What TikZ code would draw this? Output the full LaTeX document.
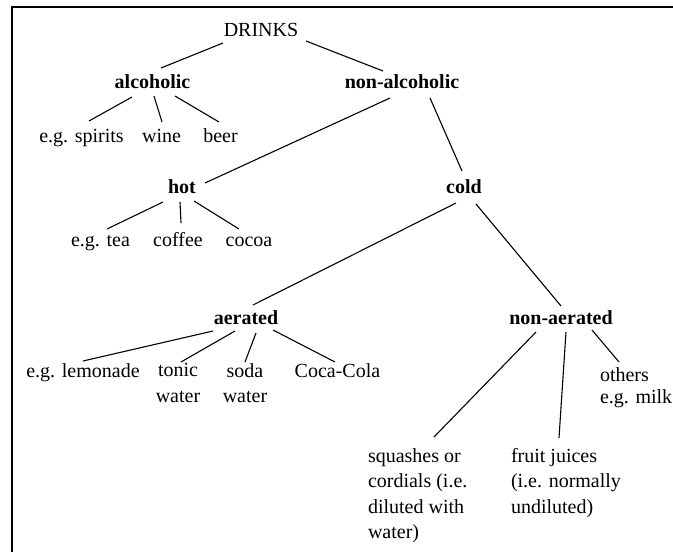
\documentclass[tikz,border=0pt]{standalone}
\usepackage{fontspec}
\setmainfont{Liberation Serif}
\begin{document}
\begin{tikzpicture}[x=1pt,y=-1pt,
  every node/.style={inner sep=0pt, outer sep=0pt, font=\fontsize{20}{25.5}\selectfont},
  cat/.style={font=\fontsize{20}{25.5}\selectfont\bfseries, anchor=base},
  item/.style={anchor=base},
  multil/.style={align=left, anchor=north west},
  multic/.style={align=center, anchor=north},
  link/.style={line width=1.1pt},
  frameline/.style={line width=1.6pt}]
\useasboundingbox (0,0) rectangle (673,552);
\draw[frameline] (673,7) -- (12,7) -- (12,552);

% nodes
\node[item] (drinks) at (261,36) {DRINKS};
\node[cat] (alc) at (152.5,88) {alcoholic};
\node[cat] (nonalc) at (402,88) {non-alcoholic};
\node[item] (spirits) at (81.5,142) {e.g. spirits};
\node[item] (wine) at (161.5,142) {wine};
\node[item] (beer) at (220.5,142) {beer};
\node[cat] (hot) at (182,193) {hot};
\node[cat] (cold) at (464,193) {cold};
\node[item] (tea) at (100.5,246) {e.g. tea};
\node[item] (coffee) at (178,246) {coffee};
\node[item] (cocoa) at (249,246) {cocoa};
\node[cat] (aer) at (246,324) {aerated};
\node[cat] (nonaer) at (561,324) {non-aerated};
\node[item] (lemon) at (83,377) {e.g. lemonade};
\node[multic] (tonic) at (178,363.3) {tonic\\water};
\node[multic] (soda) at (245,363.3) {soda\\water};
\node[item] (coca) at (337.5,377) {Coca-Cola};
\node[multil] (others) at (600,367.3) {others\\[-3.5pt]e.g. milk};
\node[multil] (squash) at (368,448.3) {squashes or\\cordials (i.e.\\diluted with\\water)};
\node[multil] (juice) at (511,448.3) {fruit juices\\(i.e. normally\\undiluted)};

% connectors
\draw[link] ([shift={(-38,7)}]drinks.base) -- ([shift={(8.5,-20)}]alc.base);
\draw[link] ([shift={(45,5)}]drinks.base) -- ([shift={(-19,-17)}]nonalc.base);
\draw[link] ([shift={(-20.5,9)}]alc.base) -- ([shift={(7.5,-21)}]spirits.base);
\draw[link] ([shift={(1.5,8)}]alc.base) -- ([shift={(0.5,-20)}]wine.base);
\draw[link] ([shift={(22.5,8)}]alc.base) -- ([shift={(-1.5,-20)}]beer.base);
\draw[link] ([shift={(-12,10)}]nonalc.base) -- ([shift={(23,-10)}]hot.base);
\draw[link] ([shift={(28,10)}]nonalc.base) -- ([shift={(-2,-22)}]cold.base);
\draw[link] ([shift={(-19,9)}]hot.base) -- ([shift={(6.5,-17)}]tea.base);
\draw[link] ([shift={(-2,9)}]hot.base) -- ([shift={(3,-23)}]coffee.base);
\draw[link] ([shift={(12,8)}]hot.base) -- ([shift={(-10,-17)}]cocoa.base);
\draw[link] ([shift={(-8,10)}]cold.base) -- ([shift={(7,-19)}]aer.base);
\draw[link] ([shift={(12,11)}]cold.base) -- ([shift={(0,-18)}]nonaer.base);
\draw[link] ([shift={(-33,7)}]aer.base) -- ([shift={(0,-16)}]lemon.base);
\draw[link] ([shift={(-11,7)}]aer.base) -- ([shift={(3,-1.3)}]tonic.north);
\draw[link] ([shift={(10,9)}]aer.base) -- ([shift={(0,-1.3)}]soda.north);
\draw[link] ([shift={(27,6)}]aer.base) -- ([shift={(-2.5,-15)}]coca.base);
\draw[link] ([shift={(-25,8)}]nonaer.base) -- ([shift={(66,-11.3)}]squash.north west);
\draw[link] ([shift={(5,8)}]nonaer.base) -- ([shift={(48,-10.3)}]juice.north west);
\draw[link] ([shift={(31,6)}]nonaer.base) -- ([shift={(19,-5.3)}]others.north west);
\end{tikzpicture}
\end{document}
